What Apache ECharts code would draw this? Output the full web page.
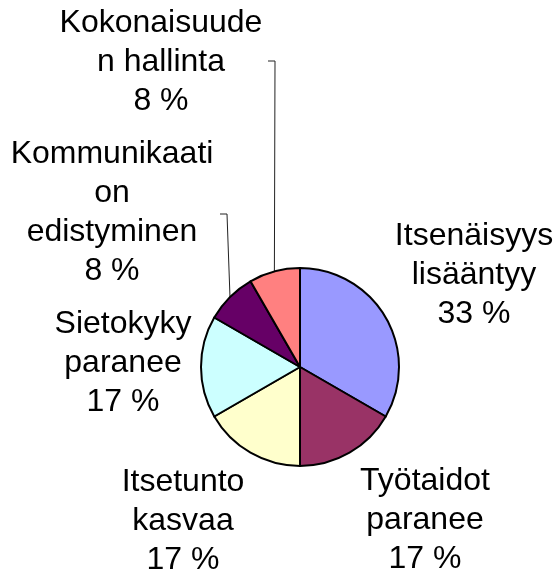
<!DOCTYPE html>
<html>
<head>
<meta charset="utf-8">
<script src="https://cdn.jsdelivr.net/npm/echarts@6/dist/echarts.min.js"></script>
<style>
html,body{margin:0;padding:0;background:#fff;}
#chart{width:556px;height:574px;}
</style>
</head>
<body>
<div id="chart"></div>
<script>
// Data
var categories = ['Itsenäisyys lisääntyy', 'Työtaidot paranee', 'Itsetunto kasvaa', 'Sietokyky paranee', 'Kommunikaation edistyminen', 'Kokonaisuuden hallinta'];
var labelTexts = ['Itsenäisyys\nlisääntyy', 'Työtaidot\nparanee', 'Itsetunto\nkasvaa', 'Sietokyky\nparanee', 'Kommunikaati\non\nedistyminen', 'Kokonaisuude\nn hallinta'];
var values = [4, 2, 2, 2, 1, 1];

// Styles / layout
var colors = ['#9999FF', '#993366', '#FFFFCC', '#CCFFFF', '#660066', '#FF8080'];
var labelPos = [[474, 275], [425, 520], [183, 521], [123, 363], [112, 213], [161, 62]];
var leaderBend = [null, null, null, null, [227, 214, 220], [275, 61, 268]];

var chart = echarts.init(document.getElementById('chart'), null, {renderer: 'canvas'});

var data = categories.map(function (c, i) {
  return {
    name: c,
    value: values[i],
    itemStyle: {color: colors[i]},
    labelLine: {show: leaderBend[i] !== null}
  };
});

chart.setOption({
  animation: false,
  backgroundColor: '#ffffff',
  series: [{
    type: 'pie',
    center: [300, 367],
    radius: 99,
    startAngle: 90,
    clockwise: true,
    avoidLabelOverlap: false,
    data: data,
    itemStyle: {borderColor: '#000', borderWidth: 2},
    emphasis: {disabled: true},
    label: {
      show: true,
      position: 'outside',
      fontFamily: 'Liberation Sans, Arial, sans-serif',
      fontSize: 32,
      lineHeight: 39,
      color: '#000',
      align: 'center',
      formatter: function (p) {
        return labelTexts[p.dataIndex] + '\n' + Math.round(p.percent) + ' %';
      }
    },
    labelLine: {
      show: true,
      length: 10,
      length2: 10,
      smooth: false,
      lineStyle: {color: '#222', width: 1}
    },
    labelLayout: function (params) {
      var i = params.dataIndex;
      var res = {x: labelPos[i][0], y: labelPos[i][1], align: 'center', verticalAlign: 'middle'};
      var b = leaderBend[i];
      if (b && params.labelLinePoints) {
        var s = params.labelLinePoints[0];
        res.labelLinePoints = [[s[0], s[1]], [b[0], b[1]], [b[2], b[1]]];
      }
      return res;
    }
  }]
});
</script>
</body>
</html>
